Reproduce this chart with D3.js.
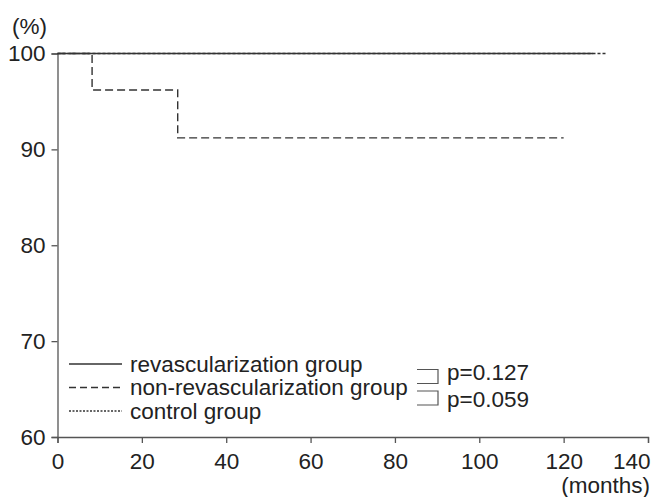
<!DOCTYPE html>
<html>
<head>
<meta charset="utf-8">
<script src="https://cdn.jsdelivr.net/npm/d3@7"></script>
<style>
  body { margin: 0; background: #fff; }
  text { font-family: "Liberation Sans", Arial, sans-serif; fill: #222; }
</style>
</head>
<body>
<div id="chart"></div>
<script>
// survival curves (months, %)
const revascTimes = [0, 127];
const revascValues = [100, 100];
const nonRevascTimes = [0, 8.2, 28.5, 120];
const nonRevascValues = [100, 96.2, 91.2, 91.2];
const controlTimes = [0, 130];
const controlValues = [100, 100];

const xTicks = [0, 20, 40, 60, 80, 100, 120, 140];
const yTicks = [60, 70, 80, 90, 100];
const legendLabels = ["revascularization group", "non-revascularization group", "control group"];
const pLabels = ["p=0.127", "p=0.059"];

const width = 655;
const height = 497;
const fontSize = 22.5;
const ink = "#333";

const svg = d3.select("#chart").append("svg")
  .attr("width", width)
  .attr("height", height);

// scales
const x = d3.scaleLinear().domain([0, 140]).range([57.5, 648]);
const y = d3.scaleLinear().domain([60, 100]).range([437, 53.5]);

// axes
const xAxis = svg.append("g")
  .attr("transform", `translate(0,${y(60)})`)
  .call(d3.axisBottom(x).tickValues(xTicks).tickSize(6).tickPadding(10.5));
const yAxis = svg.append("g")
  .attr("transform", `translate(${x(0)},0)`)
  .call(d3.axisLeft(y).tickValues(yTicks).tickSize(6).tickPadding(6));

[xAxis, yAxis].forEach(ax => {
  ax.selectAll("path, line").attr("stroke", "#555").attr("stroke-width", 1.3);
  ax.selectAll("text").style("font-size", fontSize + "px").attr("fill", "#222")
    .style("font-family", "Liberation Sans, Arial, sans-serif");
});

// last x label sits flush with the right edge
xAxis.selectAll(".tick text")
  .filter(d => d === 140)
  .attr("text-anchor", "end")
  .attr("x", 2);

// step line generator
const step = d3.line()
  .x(d => x(d[0]))
  .y(d => y(d[1]))
  .curve(d3.curveStepAfter);

const series = [
  { t: controlTimes, v: controlValues, dash: "3,2" },
  { t: nonRevascTimes, v: nonRevascValues, dash: "8,4" },
  { t: revascTimes, v: revascValues, dash: null }
];

series.forEach(s => {
  const pts = s.t.map((t, i) => [t, s.v[i]]);
  svg.append("path")
    .datum(pts)
    .attr("fill", "none")
    .attr("stroke", ink)
    .attr("stroke-width", 1.4)
    .attr("stroke-dasharray", s.dash)
    .attr("d", step);
});

// legend
const legendDash = [null, "7,4", "2,1.5"];
const legendY = [364, 387.5, 411];
legendLabels.forEach((label, i) => {
  svg.append("line")
    .attr("x1", 69).attr("x2", 122)
    .attr("y1", legendY[i]).attr("y2", legendY[i])
    .attr("stroke", ink)
    .attr("stroke-width", 1.3)
    .attr("stroke-dasharray", legendDash[i]);
  svg.append("text")
    .attr("x", 130)
    .attr("y", legendY[i])
    .attr("dy", "0.35em")
    .style("font-size", fontSize + "px")
    .text(label);
});

// brackets with p values
const brackets = [[369.5, 383.5], [391, 405]];
brackets.forEach((b, i) => {
  svg.append("path")
    .attr("d", `M417,${b[0]}H438V${b[1]}H417`)
    .attr("fill", "none")
    .attr("stroke", "#555")
    .attr("stroke-width", 1.2);
  svg.append("text")
    .attr("x", 447)
    .attr("y", i === 0 ? 372 : 399.5)
    .attr("dy", "0.35em")
    .style("font-size", fontSize + "px")
    .text(pLabels[i]);
});

// axis labels
svg.append("text")
  .attr("x", 12).attr("y", 26)
  .attr("dy", "0.35em")
  .style("font-size", fontSize + "px")
  .text("(%)");

svg.append("text")
  .attr("x", 650).attr("y", 492.5)
  .attr("text-anchor", "end")
  .style("font-size", fontSize + "px")
  .text("(months)");
</script>
</body>
</html>
